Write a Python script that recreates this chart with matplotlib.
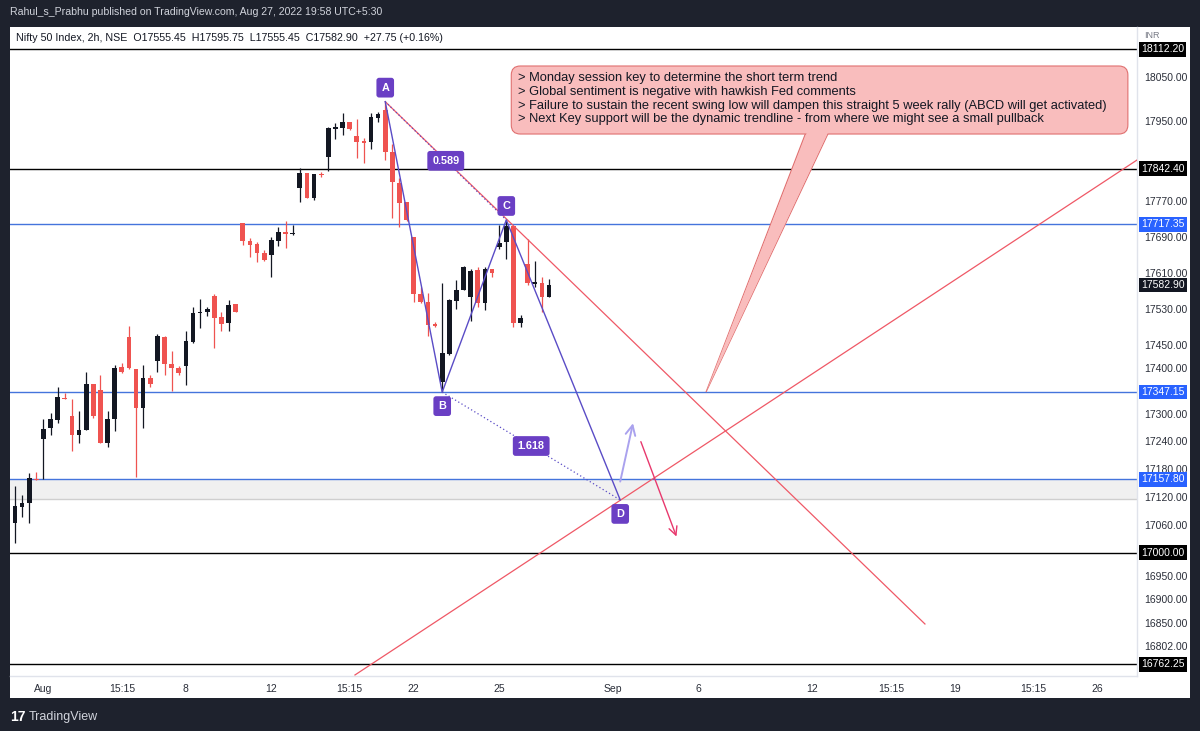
import numpy as np
import matplotlib
matplotlib.use("Agg")
import matplotlib.pyplot as plt
from matplotlib.patches import Rectangle, FancyBboxPatch, Polygon
from matplotlib.transforms import IdentityTransform, blended_transform_factory
from matplotlib.ticker import FixedLocator, NullLocator, NullFormatter

plt.rcParams['font.family'] = ['Liberation Sans', 'DejaVu Sans']

# ---------------- data (Nifty 50, 2h bars; bar 0 = 1 Aug 09:15) ----------------
first_bar = -5
opens = [16934, 17064.4, 17098.8, 17107.4, 17159.0,
         17244.4, 17268.4, 17286.4, 17335.0, 17295.2, 17253.8, 17264.7, 17365.0,
         17351.9, 17237.2, 17288.0, 17401.6, 17468.8, 17397.2, 17311.9, 17377.5,
         17415.4, 17468.8, 17408.8, 17399.4, 17405.2, 17457.8, 17521.6, 17523.8,
         17559.1, 17511.5, 17498.4, 17540.1, 17720.0, 17681.1, 17674.9, 17653.0,
         17649.2, 17681.1, 17701.2, 17696.8, 17799.7, 17832.7, 17777.3, 17830.5,
         17869.4, 17931.9, 17935.0, 17947.0, 17916.7, 17904.7, 17901.8, 17957.4,
         17974.8, 17880.6, 17809.6, 17767.0, 17690.0, 17562.9, 17545.9, 17496.1,
         17370.1, 17430.7, 17548.1, 17572.3, 17556.9, 17616.0, 17543.7, 17618.2,
         17666.3, 17678.9, 17714.0, 17498.3, 17629.3, 17585.0, 17587.9, 17555.45]
highs = [16938, 17143.5, 17124.0, 17172.2, 17174.4,
         17288.0, 17302.3, 17357.8, 17344.6, 17331.5, 17306.0, 17391.3, 17365.7,
         17385.4, 17306.0, 17406.7, 17410.4, 17493.0, 17397.2, 17406.7, 17384.8,
         17474.1, 17470.3, 17437.3, 17405.2, 17481.4, 17534.8, 17551.1, 17534.8,
         17562.3, 17522.5, 17549.6, 17540.8, 17720.0, 17686.5, 17678.9, 17660.3,
         17690.0, 17712.4, 17725.8, 17716.2, 17843.3, 17832.7, 17830.5, 17834.3,
         17935.7, 17944.7, 17967.3, 17948.4, 17954.5, 17910.8, 17967.3, 17969.6,
         17993.6, 17896.9, 17820.9, 17768.3, 17690.0, 17579.0, 17564.4, 17501.8,
         17587.9, 17551.1, 17594.4, 17624.9, 17617.6, 17623.3, 17622.0, 17618.2,
         17716.2, 17727.4, 17714.0, 17516.6, 17684.2, 17636.6, 17599.9, 17595.75]
lows = [16922, 17020.2, 17076.0, 17064.4, 17156.4,
        17158.0, 17253.8, 17280.6, 17331.5, 17219.1, 17237.2, 17264.7, 17290.2,
        17235.8, 17228.5, 17262.5, 17389.8, 17397.2, 17163.6, 17268.4, 17357.8,
        17392.0, 17384.8, 17350.4, 17384.8, 17362.9, 17454.3, 17487.3, 17515.0,
        17444.6, 17481.4, 17481.4, 17522.5, 17671.5, 17645.5, 17634.4, 17636.6,
        17599.9, 17670.0, 17664.2, 17694.5, 17767.0, 17777.3, 17772.1, 17824.4,
        17837.2, 17909.3, 17918.3, 17929.6, 17867.1, 17854.5, 17886.7, 17948.4,
        17862.0, 17731.2, 17712.4, 17725.1, 17545.9, 17542.3, 17470.3, 17489.5,
        17347.2, 17428.6, 17529.1, 17570.8, 17504.0, 17534.8, 17527.6, 17599.9,
        17661.9, 17639.7, 17490.8, 17490.8, 17582.8, 17579.0, 17523.8, 17555.45]
closes = [16928, 17100.3, 17107.4, 17160.8, 17157.0,
          17266.8, 17289.3, 17335.9, 17332.8, 17253.8, 17264.7, 17365.0, 17295.2,
          17235.8, 17288.6, 17400.8, 17392.0, 17399.4, 17313.2, 17377.5, 17365.0,
          17470.3, 17408.2, 17399.4, 17388.5, 17459.3, 17521.6, 17523.8, 17529.7,
          17509.3, 17496.8, 17538.6, 17523.8, 17681.1, 17671.5, 17654.3, 17638.2,
          17682.7, 17701.2, 17696.8, 17699.0, 17832.7, 17777.3, 17830.5, 17828.2,
          17933.4, 17937.2, 17947.0, 17931.2, 17903.2, 17900.9, 17959.7, 17965.1,
          17879.2, 17811.9, 17764.7, 17727.4, 17562.9, 17545.9, 17494.5, 17493.0,
          17432.3, 17549.6, 17572.3, 17623.3, 17614.5, 17543.7, 17618.2, 17608.7,
          17676.6, 17714.0, 17498.3, 17509.3, 17587.9, 17588.8, 17555.7, 17582.90]

# horizontal levels drawn on the chart
black_levels = [18112.20, 17842.40, 17000.00, 16762.25]
blue_levels = [17717.35, 17347.15, 17157.80]
zone_low, zone_high = 17114.7, 17157.80
last_price = 17582.90

# trend lines (bar index, price)
down_trend = ([48, 123.8], [17993.6, 16847.8])
up_trend = ([43.75, 153.6], [16740.0, 17862.0])

# ABCD pattern points (bar index, price)
abcd_x = [48, 56, 65, 81]
abcd_y = [17993.6, 17347.15, 17727.4, 17113.2]
abcd_names = ['A', 'B', 'C', 'D']
ratio_ac, ratio_bd = '0.589', '1.618'

# arrows (bar index, price): start -> end
arrow_up = ((81.0, 17152.8), (82.8, 17279.3))
arrow_down = ((83.9, 17239.2), (88.9, 17034.4))

# callout
note_lines = ["> Monday session key to determine the short term trend",
              "> Global sentiment is negative with hawkish Fed comments",
              "> Failure to sustain the recent swing low will dampen this straight 5 week rally (ABCD will get activated)",
              "> Next Key support will be the dynamic trendline - from where we might see a small pullback"]
note_x = (65.7, 152.3)
note_y = (17920.4, 18074.6)
pointer_base_x = (107.1, 110.3)
pointer_tip = (93.05, 17347.15)

# axes ticks
price_ticks = [18050, 17950, 17770, 17690, 17610, 17530, 17450, 17400, 17300,
               17240, 17180, 17120, 17060, 16950, 16900, 16850, 16802]
time_ticks = [0, 11, 20, 32, 43, 52, 64, 80, 92, 108, 119, 128, 139, 148]
time_labels = ["Aug", "15:15", "8", "12", "15:15", "22", "25", "Sep", "6", "12",
               "15:15", "19", "15:15", "26"]

header = "Rahul_s_Prabhu published on TradingView.com, Aug 27, 2022 19:58 UTC+5:30"
legend = "Nifty 50 Index, 2h, NSE  O17555.45  H17595.75  L17555.45  C17582.90  +27.75 (+0.16%)"

# ---------------- figure ----------------
W, H = 1200, 731
fig = plt.figure(figsize=(W / 100, H / 100), dpi=100)
fig.patch.set_facecolor('#1e222d')


def fx(px):
    return px / W


def fy(py):
    return 1 - py / H


fig.add_artist(Rectangle((fx(10), fy(698)), fx(1190) - fx(10), fy(27) - fy(698),
                         transform=fig.transFigure, fc='white', ec='none', zorder=0))
ax = fig.add_axes([fx(10), fy(676), fx(1137) - fx(10), fy(27) - fy(676)])
ax.set_facecolor('white')
ax.set_yscale('log')
ax.set_ylim(16737.8, 18163.6)
ax.set_xlim(-4.7, 153.58)

UP, DOWN = '#131722', '#ef5350'
PURPLE = '#5a4cc6'
TAG = '#6a3fc4'
RED_LINE = '#ef5866'
BLUE = '#4474dc'

# zone + levels
ax.axhspan(zone_low, zone_high, color='#f0f0f0', lw=0, zorder=1)
ax.axhline(zone_low, color='#cfcfcf', lw=1, zorder=1)
for lv in black_levels:
    ax.axhline(lv, color='black', lw=1, zorder=2)
for lv in blue_levels:
    ax.axhline(lv, color=BLUE, lw=1, zorder=2)

# candles
o = np.array(opens); h = np.array(highs); l = np.array(lows); c = np.array(closes)
xs = np.arange(len(o)) + first_bar
col = np.where(c >= o, UP, DOWN)
ax.vlines(xs, l, h, colors=col, lw=0.9, zorder=3)
bottom = np.minimum(o, c)
height = np.maximum(np.abs(c - o), 2.0)
ax.bar(xs, height, bottom=bottom, width=0.66, color=col, lw=0, zorder=4)

# trend lines
ax.plot(*down_trend, color=RED_LINE, lw=0.9, zorder=5)
ax.plot(*up_trend, color=RED_LINE, lw=0.9, zorder=5)

# ABCD
ax.plot(abcd_x, abcd_y, color=PURPLE, lw=1.0, zorder=6)
ax.plot([abcd_x[0], abcd_x[2]], [abcd_y[0], abcd_y[2]], color=PURPLE, lw=0.9,
        ls=(0, (1, 2)), zorder=6)
ax.plot([abcd_x[1], abcd_x[3]], [abcd_y[1], abcd_y[3]], color=PURPLE, lw=0.9,
        ls=(0, (1, 2)), zorder=6)

tag_box = dict(boxstyle='round,pad=0.45,rounding_size=0.25', fc=TAG, ec='none')
for name, xv, yv, dy in zip(abcd_names, abcd_x, abcd_y, [14, -14, 14, -14]):
    ax.annotate(name, (xv, yv), xytext=(0, dy), textcoords='offset pixels',
                ha='center', va='center', color='white', fontsize=7.8,
                fontweight='bold', bbox=tag_box, zorder=9)

for (i, j), s in zip([(0, 2), (1, 3)], [ratio_ac, ratio_bd]):
    p1 = ax.transData.transform((abcd_x[i], abcd_y[i]))
    p2 = ax.transData.transform((abcd_x[j], abcd_y[j]))
    mid = (p1 + p2) / 2
    ax.annotate(s, mid, xycoords='figure pixels', ha='center', va='center',
                color='white', fontsize=7.8, fontweight='bold', bbox=tag_box, zorder=9)

# arrows
ax.annotate('', xy=arrow_up[1], xytext=arrow_up[0],
            arrowprops=dict(arrowstyle='->,head_length=0.7,head_width=0.35',
                            color='#aaa2ee', lw=1.4, shrinkA=0, shrinkB=0), zorder=7)
ax.annotate('', xy=arrow_down[1], xytext=arrow_down[0],
            arrowprops=dict(arrowstyle='->,head_length=0.6,head_width=0.3',
                            color='#e8386d', lw=1.0, shrinkA=0, shrinkB=0), zorder=7)

# callout
NOTE_FC, NOTE_EC = '#f9bdbd', '#e07070'
tl = ax.transData.transform((note_x[0], note_y[1]))
br = ax.transData.transform((note_x[1], note_y[0]))
pb1 = ax.transData.transform((pointer_base_x[0], note_y[0]))
pb2 = ax.transData.transform((pointer_base_x[1], note_y[0]))
ptip = ax.transData.transform(pointer_tip)
ax.add_patch(Polygon([pb1 + [0, 2], ptip, pb2 + [0, 2]], closed=True, fc=NOTE_FC,
                     ec=NOTE_EC, lw=0.8, transform=IdentityTransform(), zorder=8))
ax.add_patch(FancyBboxPatch((tl[0], br[1]), br[0] - tl[0], tl[1] - br[1],
                            boxstyle='round,pad=0,rounding_size=9', fc=NOTE_FC,
                            ec=NOTE_EC, lw=0.8, transform=IdentityTransform(), zorder=8))
ax.add_patch(Polygon([pb1 + [0.8, 1.5], ptip, pb2 + [-0.8, 1.5]], closed=True,
                     fc=NOTE_FC, ec='none', transform=IdentityTransform(), zorder=8.5))
ax.annotate("\n".join(note_lines), (tl[0], tl[1]), xycoords='figure pixels',
            xytext=(7, -6), textcoords='offset pixels', ha='left', va='top',
            fontsize=9.3, color='#131722', linespacing=1.2, zorder=9)

# axes styling
for s in ['top', 'left']:
    ax.spines[s].set_visible(False)
for s in ['right', 'bottom']:
    ax.spines[s].set_color('#e0e3eb')
    ax.spines[s].set_linewidth(1)
ax.yaxis.tick_right()
ax.yaxis.set_major_locator(FixedLocator(price_ticks))
ax.yaxis.set_minor_locator(NullLocator())
ax.yaxis.set_minor_formatter(NullFormatter())
ax.set_yticklabels([f"{v:.2f}" for v in price_ticks])
ax.set_xticks(time_ticks)
ax.set_xticklabels(time_labels)
ax.tick_params(axis='y', length=0, pad=5, labelsize=7.5, labelcolor='#2a2e39')
ax.tick_params(axis='x', length=0, pad=6, labelsize=7.5, labelcolor='#2a2e39')

trans = blended_transform_factory(ax.transAxes, ax.transData)
marks = [(v, 'black') for v in black_levels] + [(v, '#2962ff') for v in blue_levels] + \
        [(last_price, '#131722')]
for v, fc in marks:
    ax.text(1.0 + 4 / 1127, v, f"{v:.2f}", transform=trans, ha='left', va='center',
            fontsize=7.5, color='white', clip_on=False, zorder=12,
            bbox=dict(boxstyle='square,pad=0.22', fc=fc, ec='none'))

# header / legend / footer
fig.text(fx(10), fy(12), header, color='#d1d4dc', fontsize=7.6, va='center')
fig.text(fx(16), fy(38), legend, color='#131722', fontsize=7.7, va='center')
fig.text(fx(1144), fy(36), 'INR', color='#787b86', fontsize=6.5, va='center')
fig.text(fx(10), fy(717), '17', color='white', fontsize=10, fontweight='bold', va='center')
fig.text(fx(29), fy(717), 'TradingView', color='#d1d4dc', fontsize=9, va='center')

fig.savefig('out.png', dpi=100, facecolor=fig.get_facecolor())
